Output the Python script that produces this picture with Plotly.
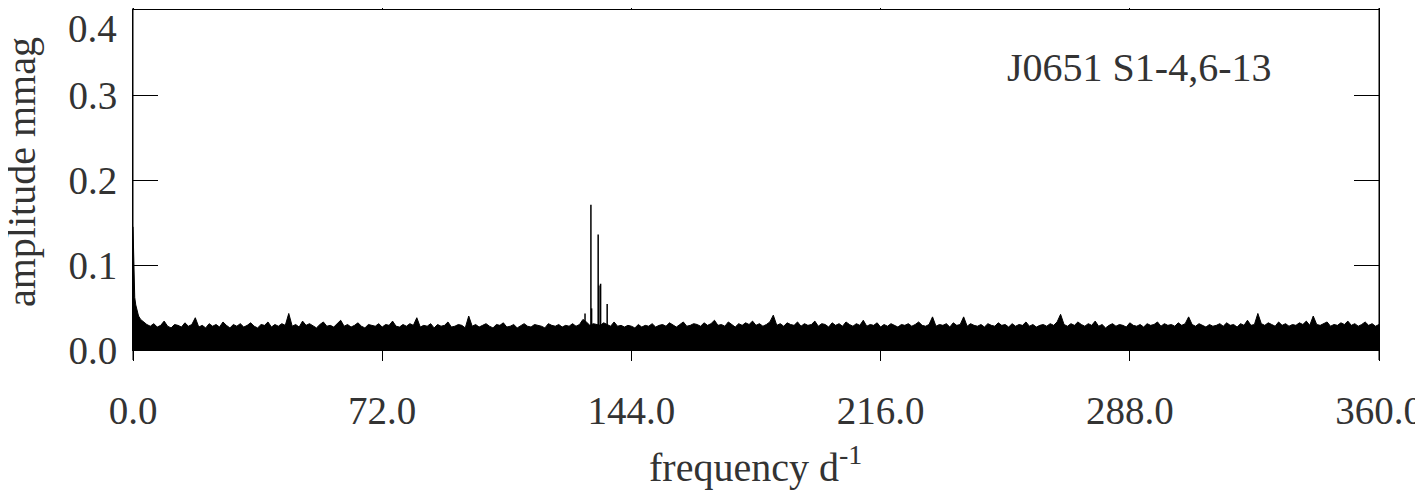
import plotly.graph_objects as go

# ---- data (amplitudes in mmag, frequencies in d^-1) ----
# low-frequency rise near 0 d^-1
low_freq = [0.0, 0.15, 0.3, 0.5, 0.8, 1.2, 1.6, 2.2, 3.0]
low_amp = [0.145, 0.120, 0.100, 0.062, 0.053, 0.045, 0.040, 0.036, 0.033]

# noise envelope, one value per d^-1 from 3 to 360, in units of 0.001 mmag
noise_start = 3
noise_milli = [
    33, 30, 28, 31, 27, 29, 34, 28, 26, 30, 29, 27, 32, 28, 30, 38, 27, 29, 26, 31,
    28, 30, 27, 33, 29, 26, 30, 28, 31, 27, 29, 32, 28, 26, 30, 29, 33, 27, 30, 28,
    31, 29, 43, 28, 30, 27, 34, 29, 31, 28, 26, 30, 33, 28, 29, 27, 31, 35, 28, 30,
    27, 29, 32, 28, 26, 30, 29, 28, 31, 27, 30, 29, 34, 28, 27, 30, 28, 31, 29, 38,
    27, 29, 28, 31, 26, 30, 28, 29, 33, 27, 28, 30, 29, 26, 40, 28, 30, 27, 29, 31,
    28, 26, 30, 29, 32, 27, 28, 30, 26, 29, 31, 28, 27, 30, 29, 28, 26, 31, 29, 28,
    30, 27, 29, 28, 31, 28, 30, 36, 33, 29, 31, 30, 29, 32, 30, 28, 33, 28, 29, 27,
    29, 28, 26, 30, 27, 29, 28, 31, 27, 29, 30, 28, 32, 29, 27, 30, 33, 28, 29, 31,
    30, 28, 32, 29, 31, 35, 29, 30, 28, 33, 30, 27, 31, 29, 32, 30, 34, 29, 31, 28,
    30, 33, 41, 29, 31, 28, 32, 30, 29, 33, 28, 31, 29, 30, 34, 28, 31, 30, 27, 32,
    29, 31, 28, 33, 30, 28, 31, 29, 35, 28, 30, 29, 32, 27, 30, 28, 31, 29, 27, 30,
    29, 31, 28, 30, 33, 29, 28, 30, 39, 28, 30, 29, 31, 27, 32, 29, 30, 39, 28, 31,
    29, 28, 30, 27, 31, 29, 28, 32, 29, 30, 27, 31, 28, 30, 29, 33, 28, 30, 27, 29,
    30, 28, 31, 29, 33, 42, 30, 28, 31, 29, 33, 30, 28, 31, 29, 34, 28, 30, 26, 29,
    31, 28, 30, 29, 27, 32, 29, 28, 30, 27, 31, 29, 30, 33, 28, 31, 29, 30, 28, 32,
    29, 31, 39, 30, 28, 31, 29, 27, 30, 28, 29, 31, 28, 32, 29, 30, 27, 31, 29, 35,
    29, 30, 43, 31, 29, 32, 30, 28, 33, 29, 31, 28, 30, 29, 32, 30, 34, 29, 40, 30,
    29, 31, 33, 28, 30, 29, 32, 30, 34, 29, 31, 28, 30, 33, 29, 31, 28, 30,
]

# significant peaks
peak_freq = [130.6, 132.3, 132.5, 134.4, 134.6, 135.1, 137.0]
peak_amp = [0.043, 0.171, 0.049, 0.136, 0.076, 0.078, 0.054]

x_tickvals = [0, 72, 144, 216, 288, 360]
x_ticktext = ["0.0", "72.0", "144.0", "216.0", "288.0", "360.0"]
y_tickvals = [0.0, 0.1, 0.2, 0.3, 0.4]
y_ticktext = ["0.0", "0.1", "0.2", "0.3", ""]   # top label drawn separately, nudged down
y_top_label = "0.4"
label_text = "J0651 S1-4,6-13"
x_title = "frequency d<sup>-1</sup>"
y_title = "amplitude mmag"

# ---- build traces ----
noise_freq = [noise_start + i for i in range(len(noise_milli))]
noise_amp = [v / 1000.0 for v in noise_milli]

FONT = "Liberation Serif, Times New Roman, serif"
TXT = "#333333"

# page offset: the html body has an 8 px margin
OFF = 8
PL, PR, PT, PB = 133, 1379, 10, 350   # plot box in page pixels
W, H = 1423 - OFF, 491 - OFF
PW, PH = PR - PL, PB - PT


def paper_x(xp):
    return (xp - PL) / PW


def paper_y(yp):
    return (PB - yp) / PH


fig = go.Figure()
fig.add_trace(go.Scatter(
    x=low_freq + noise_freq, y=low_amp + noise_amp,
    mode="lines", line=dict(color="black", width=1),
    fill="tozeroy", fillcolor="black", hoverinfo="skip", showlegend=False,
))

px, py = [], []
for f, a in zip(peak_freq, peak_amp):
    px += [f, f, None]
    py += [0, a, None]
fig.add_trace(go.Scatter(
    x=px, y=py, mode="lines", line=dict(color="black", width=1.5),
    hoverinfo="skip", showlegend=False,
))

fig.update_layout(
    width=W, height=H,
    margin=dict(l=PL - OFF, r=W + OFF - PR, t=PT - OFF, b=H + OFF - PB),
    paper_bgcolor="white", plot_bgcolor="white",
    font=dict(family=FONT, color=TXT, size=39),
    showlegend=False,
)
fig.update_xaxes(
    range=[0, 360], tickvals=x_tickvals, ticktext=x_ticktext,
    showgrid=False, zeroline=False, automargin=False,
    showline=True, linecolor="black", linewidth=1, mirror="ticks",
    ticks="outside", ticklen=10, tickcolor="black", tickwidth=1,
    tickfont=dict(family=FONT, size=39, color=TXT),
    ticklabelstandoff=16,
)
fig.update_yaxes(
    range=[0, 0.4002], tickvals=y_tickvals, ticktext=y_ticktext,
    showgrid=False, zeroline=False, automargin=False,
    showline=True, linecolor="black", linewidth=1, mirror="ticks",
    ticks="inside", ticklen=25, tickcolor="black", tickwidth=1,
    tickfont=dict(family=FONT, size=39, color=TXT),
    ticklabelstandoff=7,
)

# extended vertical frame lines (above and below the plot box)
for xp in (0, 1):
    fig.add_shape(type="line", xref="paper", yref="paper",
                  x0=xp, x1=xp, y0=-10 / PH, y1=1 + 10 / PH,
                  line=dict(color="black", width=1))

fig.add_annotation(text=y_top_label, xref="paper", yref="paper",
                   x=paper_x(119), y=paper_y(28), xanchor="right", yanchor="middle",
                   showarrow=False, font=dict(family=FONT, size=39, color=TXT))
fig.add_annotation(text=label_text, xref="paper", yref="paper",
                   x=paper_x(1005), y=paper_y(68), xanchor="left", yanchor="middle",
                   showarrow=False, font=dict(family=FONT, size=40, color=TXT))
fig.add_annotation(text=x_title, xref="paper", yref="paper",
                   x=paper_x(755), y=paper_y(464), xanchor="center", yanchor="middle",
                   showarrow=False, font=dict(family=FONT, size=40, color=TXT))
fig.add_annotation(text=y_title, xref="paper", yref="paper", textangle=-90,
                   x=paper_x(21), y=paper_y(172), xanchor="center", yanchor="middle",
                   showarrow=False, font=dict(family=FONT, size=40, color=TXT))

fig.write_html("out.html")
